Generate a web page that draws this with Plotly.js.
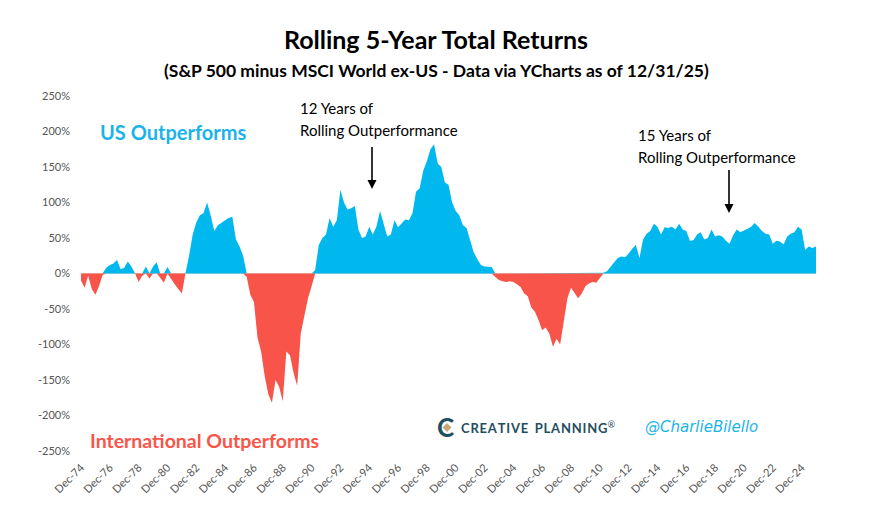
<!DOCTYPE html>
<html>
<head>
<meta charset="utf-8">
<script src="https://cdn.plot.ly/plotly-3.0.1.min.js"></script>
<style>
  html, body { margin: 0; padding: 0; background: #ffffff; }
  #chart { width: 892px; height: 530px; }
</style>
</head>
<body>
<div id="chart"></div>
<script>
// Quarterly series starting Dec-1974 (then Mar, Jun, Sep, Dec each year) to Dec-2025
// S&P 500 rolling 5-yr total return minus MSCI World ex-US rolling 5-yr total return (%)
const startYear = 1974;
const startMonth = 12;
const rollingDiff = [
  -10,                 // Dec-74
  -20, -3, -22, -30,   // 1975
  -18, -2, 8, 12,      // 1976
  14, 19, 6, 8,        // 1977
  17, 10, 0, -12,      // 1978
  -3, 10, -7, 10,      // 1979
  16, -6, -13, 9,      // 1980
  -8, -15, -22, -28,   // 1981
  0, 25, 55, 72,       // 1982
  82, 85, 100, 82,     // 1983
  60, 68, 72, 75,      // 1984
  78, 80, 48, 38,      // 1985
  25, -5, -30, -40,    // 1986
  -90, -110, -145, -170, // 1987
  -182, -150, -160, -180, // 1988
  -110, -115, -140, -158, // 1989
  -85, -60, -35, -18,  // 1990
  5, 40, 50, 55,       // 1991
  78, 66, 75, 118,     // 1992
  100, 90, 92, 95,     // 1993
  62, 50, 52, 66,      // 1994
  55, 66, 88, 68,      // 1995
  52, 55, 75, 65,      // 1996
  70, 76, 75, 85,      // 1997
  115, 120, 145, 158,  // 1998
  175, 182, 155, 150,  // 1999
  128, 125, 100, 88,   // 2000
  82, 68, 64, 48,      // 2001
  30, 20, 12, 10,      // 2002
  9, 9, -5, -9,        // 2003
  -11, -12, -11, -12,  // 2004
  -15, -19, -28, -32,  // 2005
  -48, -54, -66, -80,  // 2006
  -76, -85, -103, -92, // 2007
  -100, -68, -35, -20, // 2008
  -28, -35, -28, -18,  // 2009
  -14, -12, -13, -7,   // 2010
  1, 3, 10, 16,        // 2011
  22, 24, 23, 28,      // 2012
  35, 40, 22, 48,      // 2013
  56, 60, 70, 66,      // 2014
  55, 65, 64, 66,      // 2015
  62, 70, 62, 60,      // 2016
  46, 47, 55, 58,      // 2017
  48, 50, 62, 52,      // 2018
  54, 52, 46, 42,      // 2019
  54, 62, 58, 60,      // 2020
  63, 66, 71, 66,      // 2021
  60, 56, 55, 42,      // 2022
  46, 45, 41, 52,      // 2023
  56, 58, 66, 62,      // 2024
  33, 38, 36, 38       // 2025
];

const tickDates = ["1974-12-01","1976-12-01","1978-12-01","1980-12-01","1982-12-01","1984-12-01",
  "1986-12-01","1988-12-01","1990-12-01","1992-12-01","1994-12-01","1996-12-01","1998-12-01",
  "2000-12-01","2002-12-01","2004-12-01","2006-12-01","2008-12-01","2010-12-01","2012-12-01",
  "2014-12-01","2016-12-01","2018-12-01","2020-12-01","2022-12-01","2024-12-01"];
const tickLabels = ["Dec-74","Dec-76","Dec-78","Dec-80","Dec-82","Dec-84","Dec-86","Dec-88",
  "Dec-90","Dec-92","Dec-94","Dec-96","Dec-98","Dec-00","Dec-02","Dec-04","Dec-06","Dec-08",
  "Dec-10","Dec-12","Dec-14","Dec-16","Dec-18","Dec-20","Dec-22","Dec-24"];
const yTicks = [250, 200, 150, 100, 50, 0, -50, -100, -150, -200, -250];

// quarter dates
const dates = rollingDiff.map((v, i) => {
  const m0 = (startMonth - 1) + 3 * i;
  const y = startYear + Math.floor(m0 / 12);
  const m = (m0 % 12) + 1;
  return y + "-" + String(m).padStart(2, "0") + "-01";
});
const posVals = rollingDiff.map(v => v > 0 ? v : 0);
const negVals = rollingDiff.map(v => v < 0 ? v : 0);

const BLUE = "#00B7EE";
const RED = "#F9544A";
const FONT = "Lato, 'Open Sans', sans-serif";

const traces = [
  { x: dates, y: posVals, type: "scatter", mode: "lines", fill: "tozeroy",
    fillcolor: BLUE, line: { width: 0, color: BLUE }, hoverinfo: "skip", showlegend: false },
  { x: dates, y: negVals, type: "scatter", mode: "lines", fill: "tozeroy",
    fillcolor: RED, line: { width: 0, color: RED }, hoverinfo: "skip", showlegend: false }
];

const L = 81, R = 816, T = 96, B = 451;
const px = v => (v - L) / (R - L);
const py = v => (B - v) / (B - T);
const P = (x, y) => px(x) + " " + py(y);

const layout = {
  width: 892, height: 530,
  margin: { l: L, r: 892 - R, t: T, b: 530 - B, pad: 0 },
  paper_bgcolor: "#ffffff", plot_bgcolor: "#ffffff",
  font: { family: FONT, color: "#595959" },
  title: { text: "<b>Rolling 5-Year Total Returns</b>", x: 436 / 892, xanchor: "center",
    y: 1 - 40 / 530, yanchor: "middle", yref: "container",
    font: { family: FONT, size: 25, color: "#000000" } },
  xaxis: {
    type: "date", range: ["1974-12-01", "2025-12-01"],
    tickvals: tickDates, ticktext: tickLabels, tickangle: -45,
    tickfont: { family: FONT, size: 11, color: "#555555" },
    showgrid: false, zeroline: false, showline: false, ticks: "",
    ticklabelstandoff: 7
  },
  yaxis: {
    range: [-250, 250], tickvals: yTicks, ticktext: yTicks.map(v => v + "%"),
    tickfont: { family: FONT, size: 11, color: "#555555" },
    showgrid: false, showline: false, ticks: "",
    zeroline: true, zerolinecolor: "#D9D9D9", zerolinewidth: 1,
    ticklabelstandoff: 10
  },
  shapes: [
    // logo diamond
    { type: "path", xref: "paper", yref: "paper",
      path: "M " + P(447, 423) + " L " + P(451.5, 427.5) + " L " + P(447, 432) + " L " + P(442.5, 427.5) + " Z",
      fillcolor: "#C9A97C", line: { width: 0 } },
    // arrow 1
    { type: "line", xref: "paper", yref: "paper", x0: px(372), x1: px(372), y0: py(147), y1: py(181),
      line: { color: "#000000", width: 1.6 } },
    { type: "path", xref: "paper", yref: "paper",
      path: "M " + P(367.5, 180) + " L " + P(376.5, 180) + " L " + P(372, 189) + " Z",
      fillcolor: "#000000", line: { width: 0 } },
    // arrow 2
    { type: "line", xref: "paper", yref: "paper", x0: px(729), x1: px(729), y0: py(170), y1: py(205),
      line: { color: "#000000", width: 1.6 } },
    { type: "path", xref: "paper", yref: "paper",
      path: "M " + P(724.5, 204) + " L " + P(733.5, 204) + " L " + P(729, 213) + " Z",
      fillcolor: "#000000", line: { width: 0 } }
  ],
  annotations: [
    { text: "<b>(S&P 500 minus MSCI World ex-US - Data via YCharts as of 12/31/25)</b>",
      xref: "paper", yref: "paper", x: px(436), y: py(70), xanchor: "center", yanchor: "middle",
      showarrow: false, font: { family: FONT, size: 17.5, color: "#000000" } },
    { text: "<b>US Outperforms</b>", xref: "paper", yref: "paper", x: px(98), y: py(132),
      xanchor: "left", yanchor: "middle", showarrow: false,
      font: { family: FONT, size: 20, color: "#1BB3EA" } },
    { text: "<b>International Outperforms</b>", xref: "paper", yref: "paper", x: px(88), y: py(440),
      xanchor: "left", yanchor: "middle", showarrow: false,
      font: { family: FONT, size: 19.5, color: "#FA5548" } },
    { text: "12 Years of", xref: "paper", yref: "paper", x: px(298), y: py(108),
      xanchor: "left", yanchor: "middle", showarrow: false,
      font: { family: FONT, size: 15, color: "#000000" } },
    { text: "Rolling Outperformance", xref: "paper", yref: "paper", x: px(298), y: py(130),
      xanchor: "left", yanchor: "middle", showarrow: false,
      font: { family: FONT, size: 15, color: "#000000" } },
    { text: "15 Years of", xref: "paper", yref: "paper", x: px(636), y: py(135),
      xanchor: "left", yanchor: "middle", showarrow: false,
      font: { family: FONT, size: 15, color: "#000000" } },
    { text: "Rolling Outperformance", xref: "paper", yref: "paper", x: px(636), y: py(157),
      xanchor: "left", yanchor: "middle", showarrow: false,
      font: { family: FONT, size: 15, color: "#000000" } },
    { text: "<b>C</b>", xref: "paper", yref: "paper", x: px(445), y: py(427),
      xanchor: "center", yanchor: "middle", showarrow: false,
      font: { family: "Lato, sans-serif", size: 26, color: "#1F4E5E" } },
    { text: "<b>C\u200AR\u200AE\u200AA\u200AT\u200AI\u200AV\u200AE  P\u200AL\u200AA\u200AN\u200AN\u200AI\u200AN\u200AG</b><sup>®</sup>",
      xref: "paper", yref: "paper", x: px(459), y: py(427),
      xanchor: "left", yanchor: "middle", showarrow: false,
      font: { family: FONT, size: 13, color: "#1F4E5E" } },
    { text: "<i>@CharlieBilello</i>", xref: "paper", yref: "paper", x: px(643), y: py(427),
      xanchor: "left", yanchor: "middle", showarrow: false,
      font: { family: "'DejaVu Sans', sans-serif", size: 15, color: "#1BB3EA" } }
  ]
};

Plotly.newPlot("chart", traces, layout, { staticPlot: true, displayModeBar: false });
</script>
</body>
</html>
